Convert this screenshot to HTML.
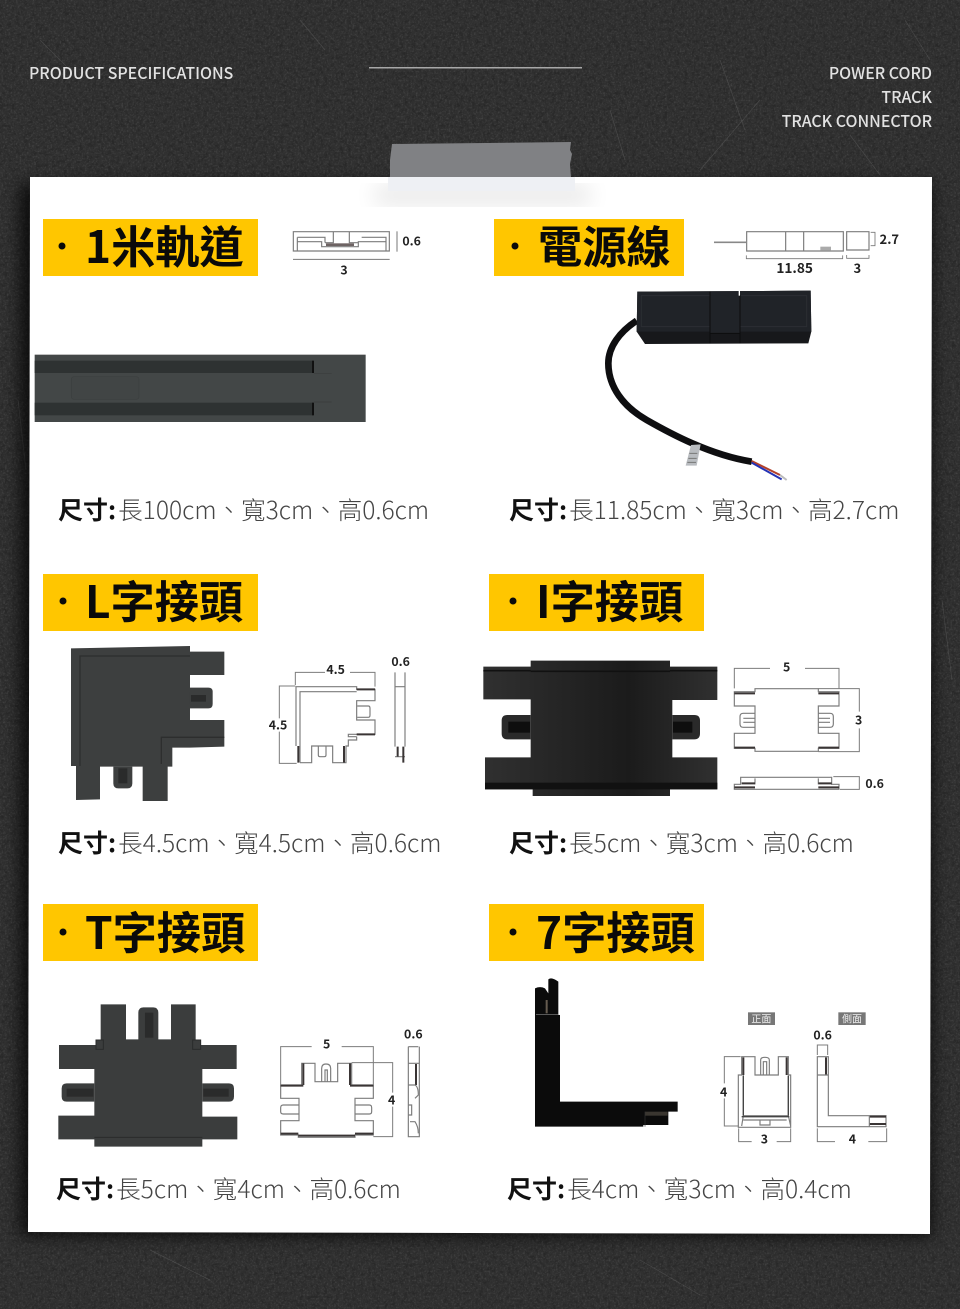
<!DOCTYPE html>
<html lang="zh-Hant"><head><meta charset="utf-8"><title>Product specifications</title>
<style>
html,body{margin:0;padding:0;background:#333}
svg{display:block}
text{font-family:"Noto Sans CJK TC","Liberation Sans",sans-serif}
.h{font-size:44.2px;font-weight:700;fill:#0a0a0a}
.s{font-size:24.55px;fill:#454545;font-weight:300}
.s tspan.b{font-weight:700;fill:#111;font-size:25px}
.d{font-weight:700;fill:#222;font-size:37px;text-anchor:middle}
.o{fill:none;stroke:#7c7c7c;stroke-width:3.5}
.k{fill:none;stroke:#3a3535;stroke-width:6}
.m{fill:none;stroke:#7c7c7c;stroke-width:3}
.t{font-size:15.9px;font-weight:500;fill:#e2e2e2}
</style></head><body>
<svg width="960" height="1309" viewBox="0 0 960 1309" xmlns="http://www.w3.org/2000/svg">
<defs>
<filter id="n" x="0" y="0" width="100%" height="100%" color-interpolation-filters="sRGB"><feTurbulence type="fractalNoise" baseFrequency="0.55" numOctaves="3" seed="4"/><feColorMatrix values="0 0 0 0 1  0 0 0 0 1  0 0 0 0 1  3 0 0 0 -1.45"/></filter>
<filter id="n2" x="0" y="0" width="100%" height="100%" color-interpolation-filters="sRGB"><feTurbulence type="fractalNoise" baseFrequency="0.25" numOctaves="2" seed="9"/><feColorMatrix values="0 0 0 0 0  0 0 0 0 0  0 0 0 0 0  0 3 0 0 -1.3"/></filter>
<filter id="b12"><feGaussianBlur stdDeviation="8"/></filter>
<filter id="b6"><feGaussianBlur stdDeviation="11"/></filter>
<linearGradient id="ig" x1="0" x2="1" y1="0" y2="0"><stop offset="0" stop-color="#303030"/><stop offset=".62" stop-color="#1b1b1b"/><stop offset="1" stop-color="#303030"/></linearGradient>
</defs>
<rect width="960" height="1309" fill="#303030"/>
<rect width="960" height="1309" filter="url(#n2)" opacity=".16"/>
<rect width="960" height="1309" filter="url(#n)" opacity=".085"/>
<g stroke="#777" stroke-width=".7" opacity=".35" fill="none">
<path d="M720,60L745,130M700,170L760,100M610,110L625,160M850,135L880,175M40,40L70,70M905,20L930,60M150,1250L210,1280M640,1260L700,1295M300,20L325,50M18,400L26,470M942,600L952,680"/>
</g>
<polygon points="20,184 932,184 932,1236 20,1236" fill="#000" opacity=".72" filter="url(#b12)"/>
<text class="t" x="29" y="79">PRODUCT SPECIFICATIONS</text>
<rect x="369" y="67" width="213" height="1.5" fill="#a8a8a8"/>
<g text-anchor="end"><text class="t" x="932" y="79">POWER CORD</text><text class="t" x="932" y="103">TRACK</text><text class="t" x="932" y="127">TRACK CONNECTOR</text></g>

<!-- paper -->
<polygon points="30,177 932,177 930,1234 28,1232" fill="#fff"/>
<!-- tape -->
<rect x="375" y="185" width="215" height="20" fill="#000" opacity=".09" filter="url(#b6)"/>
<polygon points="392,144 571,142 570,150 572,154 570,164 571,178 390,178 390,160" fill="#808184"/>
<rect x="388" y="177" width="187" height="14" fill="#eef0f4"/>

<!-- headings -->
<g fill="#ffc600">
<rect x="43" y="219" width="215" height="57"/><rect x="494" y="219" width="190" height="57"/>
<rect x="43" y="574" width="215" height="57"/><rect x="489" y="574" width="215" height="57"/>
<rect x="43" y="904" width="215" height="57"/><rect x="489" y="904" width="215" height="57"/>
</g>
<g fill="#0a0a0a"><circle cx="62" cy="246" r="3.5"/><circle cx="515" cy="246" r="3.5"/><circle cx="63" cy="601" r="3.5"/><circle cx="513" cy="601" r="3.5"/><circle cx="63" cy="932" r="3.5"/><circle cx="513" cy="932" r="3.5"/></g>
<text class="h" x="85" y="263">1米軌道</text>
<text class="h" x="538" y="263">電源線</text>
<text class="h" x="85" y="618">L字接頭</text>
<text class="h" x="536" y="618">I字接頭</text>
<text class="h" x="85" y="949">T字接頭</text>
<text class="h" x="536" y="949">7字接頭</text>

<text class="s" x="58" y="519"><tspan class="b">尺寸:</tspan><tspan dx="2">長100cm、寬3cm、高0.6cm</tspan></text>
<text class="s" x="509" y="519"><tspan class="b">尺寸:</tspan><tspan dx="2">長11.85cm、寬3cm、高2.7cm</tspan></text>
<text class="s" x="58" y="852"><tspan class="b">尺寸:</tspan><tspan dx="2">長4.5cm、寬4.5cm、高0.6cm</tspan></text>
<text class="s" x="509" y="852"><tspan class="b">尺寸:</tspan><tspan dx="2">長5cm、寬3cm、高0.6cm</tspan></text>
<text class="s" x="56" y="1198"><tspan class="b">尺寸:</tspan><tspan dx="2">長5cm、寬4cm、高0.6cm</tspan></text>
<text class="s" x="507" y="1198"><tspan class="b">尺寸:</tspan><tspan dx="2">長4cm、寬3cm、高0.4cm</tspan></text>

<!-- track photo + drawing -->
<g transform="translate(0,130) scale(.33333)">
<rect x="104" y="674" width="993" height="202" fill="#434747"/>
<rect x="104" y="692" width="836" height="37" fill="#2e3232"/>
<rect x="104" y="818" width="836" height="38" fill="#2e3232"/>
<rect x="936" y="692" width="6" height="37" fill="#111"/><rect x="936" y="818" width="6" height="38" fill="#111"/>
<path d="M942,730H995M942,816H995" stroke="#3a3d3d" stroke-width="2"/>
<rect x="214" y="740" width="203" height="68" rx="8" fill="#414545" stroke="#3b3f3f" stroke-width="2"/>
<path d="M880,305H1168V363H880Z" class="o"/>
<path d="M892,322H975V338M892,322V363M892,335H965V350H1075V335H1158M1000,305V338H975M1048,305V338H1075M1085,322H1158V363" class="o"/>
<rect x="978" y="340" width="84" height="8" fill="#6d6363"/>
<path d="M1191,304V365" stroke="#777" stroke-width="3"/>
<path d="M879,388H1169" stroke="#777" stroke-width="3"/>
<text class="d" x="1235" y="346">0.6</text><text class="d" x="1032" y="434">3</text>
</g>

<!-- power cord -->
<g transform="translate(480,200) scale(.33333)">
<path d="M470,362C420,395 385,440 385,490C385,560 430,620 500,660C570,700 690,765 815,785" fill="none" stroke="#0e0e10" stroke-width="20"/>
<path d="M815,783L900,825" stroke="#b3402a" stroke-width="6"/><path d="M815,788L905,838" stroke="#2432b5" stroke-width="6"/><path d="M900,825L920,840" stroke="#bbb" stroke-width="6"/>
<polygon points="633,735 662,733 650,797 617,797" fill="#b9bcc0"/>
<path d="M628,760H652M625,775H650M622,787H648" stroke="#777" stroke-width="3"/>
<polygon points="472,275 992,272 994,395 985,430 495,432 470,395" fill="#17181b"/>
<polygon points="472,275 992,272 994,395 470,395" fill="#202328"/>
<path d="M484,287H980V380H484Z" fill="none" stroke="#2b2e33" stroke-width="3"/>
<rect x="690" y="277" width="90" height="122" fill="#202328"/>
<path d="M690,275V430M780,285V430M690,400H780" stroke="#0c0c0e" stroke-width="3"/>
<rect x="776" y="272" width="4" height="15" fill="#fff"/>
<path d="M800,95H1090V153H800ZM917,95V153M971,95V153M1100,95H1167V150H1100Z" class="o"/>
<rect x="1021" y="140" width="32" height="12" fill="#aaa"/>
<path d="M702,127H798" stroke="#888" stroke-width="5"/>
<path d="M1172,97H1185V137H1172M799,166V176H1088V166M1100,165V175H1167V165" fill="none" stroke="#777" stroke-width="2.5"/>
<text class="d" x="1228" y="132" style="font-size:39px">2.7</text><text class="d" x="944" y="219" style="font-size:41px">11.85</text><text class="d" x="1132" y="219" style="font-size:39px">3</text>
</g>

<!-- L connector -->
<g transform="translate(40,640) scale(.33333)">
<path d="M93,25L450,18V35H553V105H450V240H553V320L450,323H397V380H383V483H308V380H180V478L108,480V378H93Z" fill="#3d3f3f"/>
<path d="M450,143H505Q518,143 518,155V192Q518,205 505,205H450Z" fill="#3d3f3f"/>
<path d="M220,380V430Q220,445 235,445H262Q277,445 277,430V380Z" fill="#3d3f3f"/>
<rect x="453" y="165" width="45" height="20" fill="#2a2b2b"/><rect x="235" y="385" width="27" height="45" fill="#2a2b2b"/>
<path d="M120,378V48H450M553,292H364V372" fill="none" stroke="#2d2e2e" stroke-width="4"/>
<path d="M768,318V140H950V148H1005V182H950V240H1005V283H925V290H950M780,368V155H950M950,290V300H925V318H918V368H878V318H815V368H780M952,198H985Q990,198 990,205V225Q990,232 985,232H952M835,318V345Q835,350 840,350H853Q858,350 858,345V318" class="o"/>
<path d="M950,148H1005M950,283H1005M775,318V368M912,318V368" class="k"/>
<path d="M766,135V97H855M930,97H1005V140M766,138H718V235M718,275V370H770" class="m"/>
<path d="M1065,140V320M1095,140V320M1065,97V140M1095,97V140M1065,140H1095M1065,350H1095" class="o"/>
<path d="M1090,320V368M1073,320V350" class="k"/>
<text class="d" x="887" y="102">4.5</text><text class="d" x="714" y="268">4.5</text><text class="d" x="1082" y="78">0.6</text>
</g>

<!-- I connector -->
<g transform="translate(470,650) scale(.33333)">
<path d="M40,50H182V32H600V50H742V150H607V322H742V418H600V438H188V418H45V322H182V148H40Z" fill="url(#ig)"/>
<path d="M182,195H112Q95,195 95,212V250Q95,268 112,268H182ZM607,195H673Q690,195 690,212V250Q690,268 673,268H607Z" fill="#2a2a2a"/>
<rect x="115" y="215" width="65" height="33" fill="#0e0e0e"/><rect x="609" y="215" width="58" height="33" fill="#0e0e0e"/>
<path d="M40,62H182M600,62H742M182,64H600" stroke="#111" stroke-width="5"/>
<rect x="45" y="398" width="697" height="20" fill="#111"/>
<path d="M793,125H855V116H1045V125H1107V168H1045V250H1107V295H1045V304H855V295H793V250H855V168H793ZM855,190H820Q810,190 810,200V222Q810,232 820,232H855M1045,190H1080Q1090,190 1090,200V222Q1090,232 1080,232H1045M820,205H855M820,217H855M1045,205H1080M1045,217H1080" class="o"/>
<path d="M793,130H855M1045,130H1107M793,293H855M1045,293H1107" class="k"/>
<path d="M793,115V55H900M1005,55H1107V115M1045,116H1168V185M1168,235V305H1045" class="m"/>
<path d="M793,403H812V382H1085V403H1107V418H793ZM855,385V403M1045,385V403" class="o"/>
<path d="M793,412H855M1045,412H1107M815,400H855M1045,400H1085" class="k"/>
<path d="M1090,380H1168V418H1110" class="m"/>
<text class="d" x="950" y="64">5</text><text class="d" x="1166" y="224">3</text><text class="d" x="1214" y="414">0.6</text>
</g>

<!-- T connector -->
<g transform="translate(40,990) scale(.33333)">
<path d="M182,43H258V148H295V68Q295,52 310,52H340Q355,52 355,68V148H393V43H467V165H590V237H487V380H592V448H487V470H163V448H55V377H163V237H57V165H182Z" fill="#3b3d3d"/>
<path d="M163,280H80Q65,280 65,295V320Q65,335 80,335H163ZM487,280H567Q582,280 582,295V320Q582,335 567,335H487Z" fill="#3b3d3d"/>
<rect x="80" y="296" width="80" height="24" fill="#2a2b2b"/><rect x="490" y="296" width="76" height="24" fill="#2a2b2b"/><rect x="315" y="68" width="25" height="75" fill="#2a2b2b"/>
<rect x="168" y="150" width="22" height="28" fill="#3b3d3d" stroke="#2a2b2b" stroke-width="3"/><rect x="458" y="150" width="24" height="28" fill="#3b3d3d" stroke="#2a2b2b" stroke-width="3"/>
<path d="M163,442H487" stroke="#2a2b2b" stroke-width="3"/>
<path d="M785,220H825V275H893V220H935V285H1000V325H945V392H1000V435H945V442H775V435H722V392H777V325H722V285H785ZM845,275V235Q845,222 858,222Q872,222 872,235V275M855,275V240H862V275M777,345H730Q722,345 722,353V365Q722,372 730,372H777M945,345H988Q995,345 995,353V365Q995,372 988,372H945" class="o"/>
<path d="M790,220V285M722,287H790M930,220V285M930,287H1000M722,431H775M775,437H945M945,431H1000" class="k"/>
<path d="M722,285V170H815M905,170H1000V285M935,218H1058V308M1058,350V440H1000" class="m"/>
<path d="M1105,170V440H1138V170M1105,170H1135M1105,220H1138" class="o"/>
<path d="M1128,222V285" class="k"/><path d="M1105,285H1125Q1135,290 1135,315L1125,325M1105,345H1115V375H1105M1110,395H1125Q1135,410 1135,430" class="o"/>
<text class="d" x="860" y="176">5</text><text class="d" x="1055" y="344">4</text><text class="d" x="1120" y="146">0.6</text>
</g>

<!-- 7 connector -->
<g transform="translate(510,970) scale(.33333)">
<path d="M75,55Q90,48 105,55L115,70V28Q125,20 145,35V135H150V395H400H503V425H475V465H400V470H75Z" fill="#0b0b0b"/>
<path d="M78,134H145" stroke="#888" stroke-width="2"/>
<path d="M110,90V130" stroke="#665c50" stroke-width="6"/>
<rect x="405" y="425" width="68" height="12" fill="#3a3630"/>
<path d="M405,425V470" stroke="#333" stroke-width="2"/>
<rect x="714" y="127" width="81" height="38" fill="#777"/><rect x="985" y="127" width="82" height="38" fill="#777"/>
<text x="754" y="157" font-size="30" fill="#eee" text-anchor="middle">正面</text><text x="1026" y="157" font-size="30" fill="#eee" text-anchor="middle">側面</text>
<path d="M695,315V260H735V315H805V260H835V315H842V472H685V315H695ZM752,315V270Q752,262 765,262Q778,262 778,270V315M760,315V275H770V315M700,315V437H835V315M700,437L695,468M835,437L842,468M700,450H830M750,450V465H780V450" class="o"/>
<path d="M700,262V315M830,262V315" class="k"/><path d="M695,440H838M700,318V437M835,318V437" stroke="#444" stroke-width="4" fill="none"/>
<path d="M692,260H643V340M643,385V468H685M686,475V515H725M800,515H842V475M922,255V225H953V255M922,475V515H975M1075,515H1130V475" class="m"/>
<path d="M922,260H955V437H1128V470H922Z" class="o"/>
<path d="M948,262V315M1078,440H1128M1078,462H1128" class="k"/><path d="M922,315H955M1078,437V470" class="o"/>
<text class="d" x="641" y="379">4</text><text class="d" x="763" y="521">3</text><text class="d" x="938" y="208">0.6</text><text class="d" x="1027" y="521">4</text>
</g>
</svg>
</body></html>
